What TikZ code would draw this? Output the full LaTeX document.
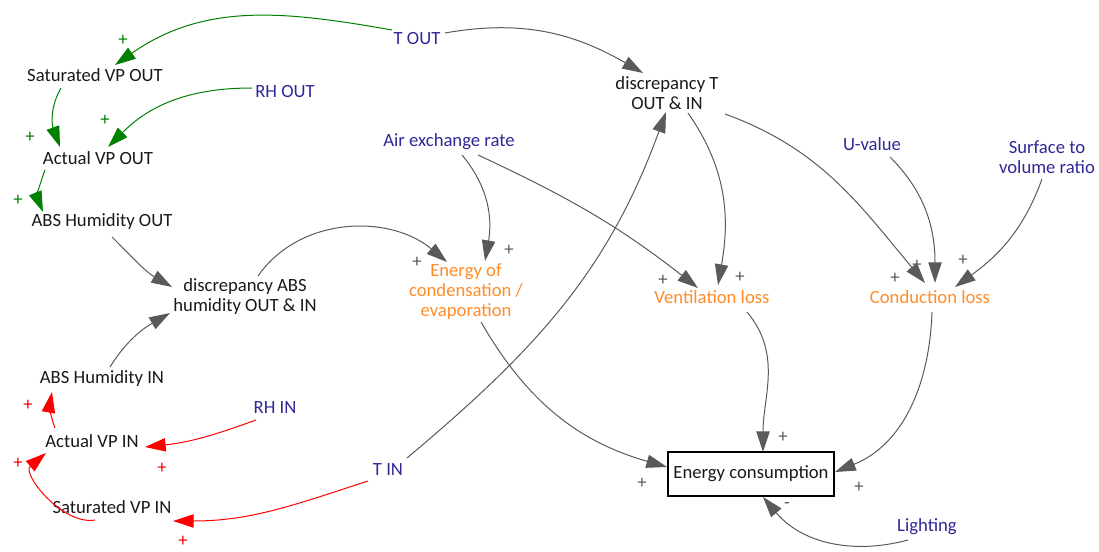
\documentclass[tikz,border=0pt]{standalone}
\usepackage{fontspec}
\setmainfont{Carlito}
\usetikzlibrary{arrows.meta,calc}

\definecolor{inputblue}{RGB}{48,40,150}
\definecolor{lossorange}{RGB}{255,140,40}
\definecolor{linkgray}{RGB}{90,90,90}
\definecolor{outgreen}{RGB}{0,128,0}
\definecolor{inred}{RGB}{255,0,0}

\tikzset{
  every node/.style={font=\fontsize{14pt}{15pt}\selectfont, align=center, inner sep=0pt, text={rgb,255:red,25;green,25;blue,25}},
  input/.style={text=inputblue},
  loss/.style={text=lossorange},
  link/.style={draw=linkgray, line width=0.75pt, -{Triangle[length=15.5pt,width=10pt]}},
  outlink/.style={link, draw=outgreen},
  inlink/.style={link, draw=inred},
  sign/.style={text=linkgray}
}

\begin{document}
\begin{tikzpicture}[x=0.75pt,y=0.75pt]
  \useasboundingbox (0,0) rectangle (1099,-552);

  % outside air
  \node[input] (tout) at (417,-39) {T OUT};
  \node (satout) at (95,-75) {Saturated VP OUT};
  \node[input] (rhout) at (285,-92) {RH OUT};
  \node (actout) at (98,-158) {Actual VP OUT};
  \node (absout) at (102,-222) {ABS Humidity OUT};
  \node (dabs) at (245,-297) {discrepancy ABS\\humidity OUT \& IN};

  % inside air
  \node (absin) at (102,-379) {ABS Humidity IN};
  \node[input] (rhin) at (275,-408) {RH IN};
  \node (actin) at (92,-441) {Actual VP IN};
  \node[input] (tin) at (388,-470) {T IN};
  \node (satin) at (112,-507) {Saturated VP IN};

  % losses
  \node (dt) at (667,-93) {discrepancy T\\OUT \& IN};
  \node[input] (air) at (449,-142) {Air exchange rate};
  \node[input] (uval) at (872,-144) {U-value};
  \node[input] (svr) at (1047,-157) {Surface to\\volume ratio};
  \node[loss] (econd) at (466,-292) {Energy of\\condensation /\\evaporation};
  \node[loss] (vent) at (712,-297) {Ventilation loss};
  \node[loss] (cond) at (930,-297) {Conduction loss};
  \node[draw, line width=0.9pt, minimum width=124.5pt, minimum height=33pt] (econs) at (751,-474) {Energy consumption};
  \node[input] (light) at (927,-527) {Lighting};

  % green links
  \draw[outlink] ($(tout)+(-25,9)$) to[out=170,in=35] ($(satout)+(20,10)$);
  \draw[outlink] ($(rhout)+(-33,4)$) to[out=180,in=45] ($(actout)+(10,11)$);
  \draw[outlink] ($(satout)+(-34,-13)$) to[out=-120,in=110] ($(actout)+(-38,11)$);
  \draw[outlink] ($(actout)+(-53,-12)$) to[out=-110,in=112] ($(absout)+(-59,10)$);

  % gray links
  \draw[link] ($(tout)+(28,6)$) to[out=10,in=150] ($(dt)+(-24,20)$);
  \draw[link] ($(absout)+(10,-15)$) to[out=-45,in=150] ($(dabs)+(-73,10)$);
  \draw[link] ($(absin)+(8,12)$) to[out=58,in=-150] ($(dabs)+(-75,-16)$);
  \draw[link] ($(dabs)+(13,21)$) to[out=55,in=140] ($(econd)+(-19,30)$);
  \draw[link] ($(air)+(13,-13)$) to[out=-50,in=80] ($(econd)+(19,31)$);
  \draw[link] ($(air)+(29,-13)$) to[out=-25,in=142] ($(vent)+(-14,9)$);
  \draw[link] ($(dt)+(21,-20)$) to[out=-55,in=80] ($(vent)+(6,12)$);
  \draw[link] ($(dt)+(58,-21)$) to[out=-20,in=130] ($(cond)+(-5,14)$);
  \draw[link] ($(uval)+(18,-13)$) to[out=-45,in=90] ($(cond)+(5,14)$);
  \draw[link] ($(svr)+(-5,-22)$) to[out=-110,in=36] ($(cond)+(25,10)$);
  \draw[link] ($(tin)+(19,12)$) to[out=40,in=-110] ($(dt)+(-1,-19)$);
  \draw[link] ($(econd)+(15,-30)$) to[out=-60,in=164] ($(econs)+(-84,7)$);
  \draw[link] ($(vent)+(35,-15)$) to[out=-50,in=90] ($(econs)+(12,22)$);
  \draw[link] ($(cond)+(2,-15)$) to[out=-92,in=22] ($(econs)+(84,2)$);
  \draw[link] ($(light)+(-19,-13)$) to[out=-165,in=-50] ($(econs)+(12,-23)$);

  % red links
  \draw[inlink] ($(actin)+(-37,13)$) to[out=110,in=-100] ($(absin)+(-50,-13)$);
  \draw[inlink] ($(rhin)+(-19,-12)$) to[out=-160,in=6] ($(actin)+(53,-6)$);
  \draw[inlink] ($(satin)+(-17,-13)$) to[out=-170,in=-140] ($(actin)+(-46,-12)$);
  \draw[inlink] ($(tin)+(-20,-11)$) to[out=-162,in=0] ($(satin)+(61,-14)$);

  % polarities
  \foreach \x/\y [count=\i] in {123/40, 105/120, 30/137, 18/200}
    \node[text=outgreen] (gs\i) at (\x,-\y) {+};
  \foreach \x/\y [count=\i] in {28/405, 18/463, 162/468, 183/541}
    \node[text=inred] (rs\i) at (\x,-\y) {+};
  \foreach \x/\y [count=\i] in {417/262, 509/250, 663/280, 740/277, 895/278, 917/265, 963/260, 783/437, 642/483, 859/487}
    \node[sign] (ks\i) at (\x,-\y) {+};
  \node[sign] (ls) at (787,-506) {-};
\end{tikzpicture}
\end{document}
